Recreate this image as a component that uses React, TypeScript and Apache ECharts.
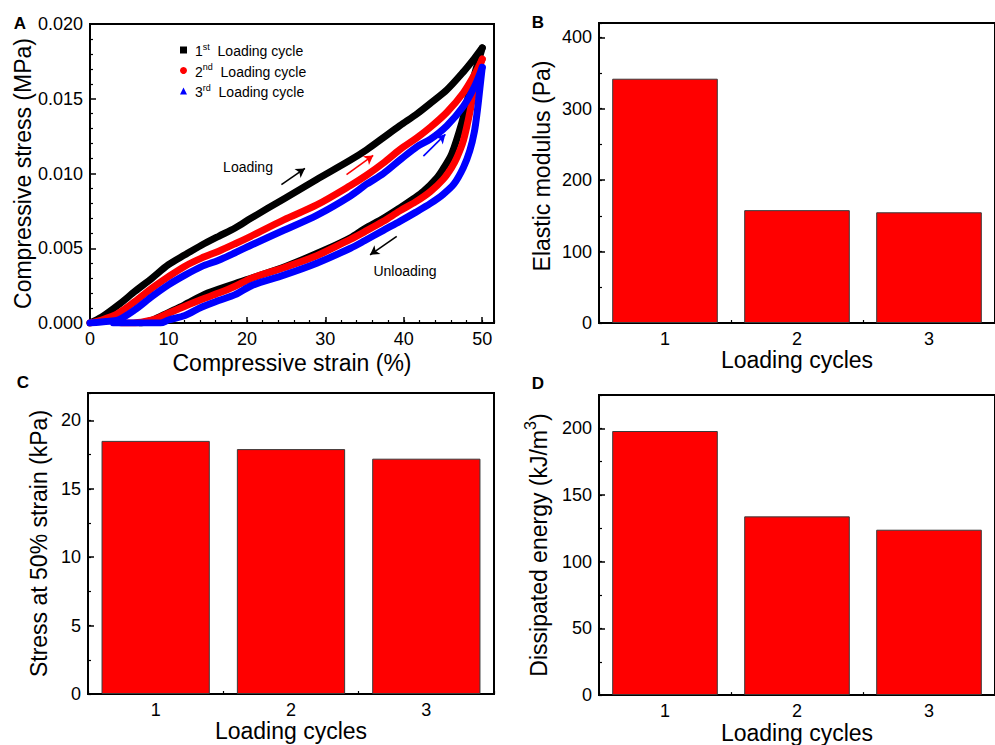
import React, { useEffect, useRef } from 'react';
import * as echarts from 'echarts';

const FONT = 'Arial, "Liberation Sans", sans-serif';

// ---------- Panel A: stress-strain loops ----------
const c1LoadStrain = [0, 1.5, 3.6, 5.7, 7.9, 10, 12.1, 14.2, 16.4, 18.5, 20.5, 24.7, 28.9, 33.2, 35.3, 37.4, 39.5, 41.7, 43.4, 45.5, 47.6, 49, 50];
const c1LoadStress = [0, 0.0004, 0.0012, 0.0021, 0.003, 0.0039, 0.00456, 0.0052, 0.0058, 0.00635, 0.007, 0.0083, 0.0096, 0.0109, 0.0116, 0.0124, 0.0132, 0.014, 0.0147, 0.0156, 0.0168, 0.0177, 0.0184];
const c1UnloadStrain = [50, 49.5, 49, 48.25, 47.4, 46.1, 45, 44.2, 42.5, 41.2, 39.5, 37.4, 35, 33.2, 30, 25, 20, 15, 12, 10, 8, 6.5];
const c1UnloadStress = [0.0184, 0.0175, 0.0166, 0.0152, 0.0134, 0.0113, 0.0103, 0.0097, 0.0088, 0.0083, 0.0077, 0.007, 0.0063, 0.0057, 0.0049, 0.0038, 0.0029, 0.002, 0.0012, 0.0007, 0.0002, 0];

const c2LoadStrain = [0, 1.5, 3.6, 5.7, 7.9, 10, 12.1, 14.2, 16.4, 18.5, 20.5, 24.7, 28.9, 33.2, 35.3, 37.4, 39.5, 41.7, 43.4, 45.5, 47.6, 49, 50];
const c2LoadStress = [0, 0.0002, 0.00065, 0.00143, 0.00233, 0.0031, 0.0038, 0.00434, 0.0048, 0.0053, 0.0058, 0.0069, 0.0079, 0.0092, 0.0099, 0.0107, 0.0116, 0.0124, 0.0131, 0.0141, 0.0154, 0.0166, 0.01765];
const c2UnloadStrain = [50, 49.5, 49.1, 48.5, 47.6, 46.8, 46.1, 45, 43.4, 41.5, 39.5, 37.4, 35, 33.2, 28.9, 24.7, 20.6, 18.5, 16.4, 14.2, 12.1, 10, 8.5, 7, 5.5, 4];
const c2UnloadStress = [0.01765, 0.0169, 0.0161, 0.0143, 0.0122, 0.0111, 0.0104, 0.0096, 0.0088, 0.0081, 0.0075, 0.0068, 0.0061, 0.0056, 0.0045, 0.0037, 0.003, 0.00246, 0.002, 0.00157, 0.00112, 0.00065, 0.0003, 0.0001, 0, 0];

const c3LoadStrain = [0, 2, 3.6, 5.7, 7.9, 10, 12.1, 14.2, 16.4, 18.5, 20.5, 24.7, 28.9, 33.2, 35.3, 37.4, 39.5, 41.7, 43.4, 45.5, 47.6, 49, 50];
const c3LoadStress = [0, 0.0001, 0.0002, 0.00087, 0.00177, 0.00255, 0.0032, 0.00377, 0.0042, 0.0047, 0.0052, 0.0062, 0.0072, 0.0085, 0.0093, 0.01, 0.0109, 0.0118, 0.0123, 0.0132, 0.0145, 0.0158, 0.0171];
const c3UnloadStrain = [50, 49.7, 49.4, 49, 48.4, 47.6, 46.4, 45, 43.4, 41.5, 39.5, 37.4, 35, 33.2, 28.9, 24.7, 20.6, 18.5, 16.4, 14.2, 12.1, 10, 9, 3];
const c3UnloadStress = [0.0171, 0.0157, 0.0143, 0.0128, 0.0115, 0.0104, 0.0093, 0.0086, 0.008, 0.0074, 0.0068, 0.0062, 0.0055, 0.005, 0.004, 0.0032, 0.0025, 0.0019, 0.0015, 0.00105, 0.0005, 0.0002, 0, 0];

const cycleNames = ['1st Loading cycle', '2nd Loading cycle', '3rd Loading cycle'];
const cycleOrdinals = ['1', '2', '3'];
const cycleSuffixes = ['st', 'nd', 'rd'];
const cycleColors = ['#000000', '#ff0000', '#0000ff'];
const cycleIcons = ['rect', 'circle', 'triangle'];

// direction arrows [startStrain, startStress, endStrain, endStress]
const arrowBlack = [24.4, 0.00926, 27.4, 0.01034];
const arrowRed = [32.7, 0.00993, 36.1, 0.01121];
const arrowBlue = [42.5, 0.01116, 45.3, 0.01262];
const arrowUnload = [39.1, 0.00579, 35.7, 0.00456];

// ---------- Panels B, C, D ----------
const cycleCategories = ['1', '2', '3'];
const elasticModulus = [342, 158, 155];
const stressAt50 = [18.5, 17.9, 17.2];
const dissipatedEnergy = [198, 134, 124];

const zip = (xs: number[], ys: number[]) => xs.map((x, i) => [x, ys[i]]);

const BLACK = '#000';

function majorValueAxis(gridIndex: number, min: number, max: number, interval: number, extra: any = {}) {
  return {
    type: 'value', gridIndex, min, max, interval,
    axisLine: { show: true, onZero: false, lineStyle: { color: BLACK, width: 2 } },
    axisTick: { show: true, inside: true, length: 6, lineStyle: { color: BLACK, width: 1.5 } },
    splitLine: { show: false },
    axisLabel: { show: true, color: BLACK, fontSize: 18, fontFamily: FONT, margin: 7, showMaxLabel: false },
    nameLocation: 'middle',
    nameTextStyle: { color: BLACK, fontSize: 23, fontFamily: FONT },
    ...extra,
  };
}

function minorValueAxis(gridIndex: number, min: number, max: number, interval: number, position: string) {
  return {
    type: 'value', gridIndex, min, max, interval, position,
    axisLine: { show: false },
    axisTick: { show: true, inside: true, length: 3, lineStyle: { color: BLACK, width: 1.2 } },
    splitLine: { show: false },
    axisLabel: { show: false },
  };
}

function majorCatAxis(gridIndex: number, name: string, nameGap: number) {
  return {
    type: 'category', gridIndex, data: cycleCategories, boundaryGap: true, position: 'bottom',
    axisLine: { show: true, onZero: false, lineStyle: { color: BLACK, width: 2 } },
    axisTick: { show: true, inside: true, alignWithLabel: true, length: 6, lineStyle: { color: BLACK, width: 1.5 } },
    axisLabel: { color: BLACK, fontSize: 18, fontFamily: FONT, margin: 7 },
    splitLine: { show: false },
    name, nameLocation: 'middle', nameGap,
    nameTextStyle: { color: BLACK, fontSize: 23, fontFamily: FONT },
  };
}

function minorCatAxis(gridIndex: number) {
  return {
    type: 'category', gridIndex, data: cycleCategories, boundaryGap: true, position: 'bottom',
    axisLine: { show: false },
    axisTick: { show: true, inside: true, alignWithLabel: false, length: 3, lineStyle: { color: BLACK, width: 1.2 } },
    axisLabel: { show: false },
    splitLine: { show: false },
  };
}

function barSeries(xAxisIndex: number, yAxisIndex: number, data: number[]) {
  return {
    type: 'bar', xAxisIndex, yAxisIndex, data, barWidth: '80%',
    itemStyle: { color: '#ff0000', borderColor: '#3a3a3a', borderWidth: 1 },
    silent: true,
  };
}

const gridBase = { show: true, borderColor: BLACK, borderWidth: 2, backgroundColor: 'transparent', containLabel: false };

function buildOption() {
  const curves = [
    [zip(c1LoadStrain, c1LoadStress), zip(c1UnloadStrain, c1UnloadStress)],
    [zip(c2LoadStrain, c2LoadStress), zip(c2UnloadStrain, c2UnloadStress)],
    [zip(c3LoadStrain, c3LoadStress), zip(c3UnloadStrain, c3UnloadStress)],
  ];
  const arrowLine = (a: number[], color: string) => [
    { coord: [a[0], a[1]], lineStyle: { color, width: 1.6, type: 'solid' } },
    { coord: [a[2], a[3]] },
  ];
  const lineSeries: any[] = [];
  curves.forEach((pair, i) => {
    pair.forEach((pts, j) => {
      lineSeries.push({
        type: 'line', name: cycleNames[i], xAxisIndex: 0, yAxisIndex: 0,
        data: pts, showSymbol: false, symbol: 'none', smooth: 0.3,
        lineStyle: { color: cycleColors[i], width: 7, cap: 'round', join: 'round' },
        itemStyle: { color: cycleColors[i] },
        emphasis: { disabled: true },
        silent: true,
        z: 2 + i,
        ...(i === 0 && j === 0 ? {
          markLine: {
            silent: true, symbol: ['none', 'arrow'], symbolSize: [8, 9],
            label: { show: false },
            data: [
              arrowLine(arrowBlack, '#000'),
              arrowLine(arrowRed, '#ff0000'),
              arrowLine(arrowBlue, '#0000ff'),
              arrowLine(arrowUnload, '#000'),
            ],
          },
        } : {}),
      });
    });
  });

  return {
    animation: false,
    backgroundColor: '#fff',
    textStyle: { fontFamily: FONT },
    grid: [
      { ...gridBase, left: 90, top: 24, width: 404, height: 299 },
      { ...gridBase, left: 599, top: 23, width: 405, height: 300 },
      { ...gridBase, left: 88, top: 393, width: 406, height: 301 },
      { ...gridBase, left: 599, top: 395, width: 405, height: 301 },
    ],
    legend: {
      left: 175, top: 37, orient: 'vertical', itemWidth: 7, itemHeight: 7, itemGap: 4.5,
      selectedMode: false,
      data: cycleNames.map((n, i) => ({ name: n, icon: cycleIcons[i] })),
      formatter: (name: string) => {
        const i = cycleNames.indexOf(name);
        return `{b|${cycleOrdinals[i]}}{s|${cycleSuffixes[i]}}{b|  Loading cycle}`;
      },
      textStyle: {
        padding: [0, 0, 0, 3],
        rich: {
          b: { fontSize: 14, lineHeight: 16, fontFamily: FONT, color: BLACK, verticalAlign: 'bottom' },
          s: { fontSize: 9, lineHeight: 10, fontFamily: FONT, color: BLACK, verticalAlign: 'top' },
        },
      },
    },
    xAxis: [
      majorValueAxis(0, 0, 51.5, 10, { position: 'bottom', name: 'Compressive strain (%)', nameGap: 28 }),
      minorValueAxis(0, 0, 51.5, 2, 'bottom'),
      majorCatAxis(1, 'Loading cycles', 25),
      minorCatAxis(1),
      majorCatAxis(2, 'Loading cycles', 22),
      minorCatAxis(2),
      majorCatAxis(3, 'Loading cycles', 25),
      minorCatAxis(3),
    ],
    yAxis: [
      majorValueAxis(0, 0, 0.02, 0.005, {
        position: 'left', name: 'Compressive stress (MPa)', nameGap: 56,
        minorTick: { show: true, splitNumber: 5, length: 3, lineStyle: { color: BLACK, width: 1.2 } },
        axisLabel: { show: true, color: BLACK, fontSize: 18, fontFamily: FONT, margin: 7, formatter: (v: number) => v.toFixed(3) },
      }),
      majorValueAxis(1, 0, 420, 100, {
        position: 'left', name: 'Elastic modulus (Pa)', nameGap: 46,
        nameTextStyle: { color: BLACK, fontSize: 23, fontFamily: FONT, padding: [0, 0, 0, 14] },
      }),
      minorValueAxis(1, 0, 420, 50, 'left'),
      majorValueAxis(2, 0, 22, 5, { position: 'left', name: 'Stress at 50% strain (kPa)', nameGap: 38 }),
      minorValueAxis(2, 0, 22, 2.5, 'left'),
      majorValueAxis(3, 0, 225, 50, {
        position: 'left', name: '{a|Dissipated energy (kJ/m}{s|3}{a|)}', nameGap: 49,
        nameTextStyle: {
          color: BLACK, fontFamily: FONT,
          rich: {
            a: { fontSize: 23, lineHeight: 28, fontFamily: FONT, color: BLACK, verticalAlign: 'bottom' },
            s: { fontSize: 16, lineHeight: 16, fontFamily: FONT, color: BLACK, verticalAlign: 'top' },
          },
        },
      }),
      minorValueAxis(3, 0, 225, 25, 'left'),
    ],
    series: [
      ...lineSeries,
      barSeries(2, 1, elasticModulus),
      barSeries(4, 3, stressAt50),
      barSeries(6, 5, dissipatedEnergy),
    ],
    graphic: [
      { type: 'text', x: 20, y: 23, style: { text: 'A', font: `bold 17px ${FONT}`, fill: BLACK, align: 'center', verticalAlign: 'middle' } },
      { type: 'text', x: 538, y: 22, style: { text: 'B', font: `bold 17px ${FONT}`, fill: BLACK, align: 'center', verticalAlign: 'middle' } },
      { type: 'text', x: 23, y: 382, style: { text: 'C', font: `bold 17px ${FONT}`, fill: BLACK, align: 'center', verticalAlign: 'middle' } },
      { type: 'text', x: 538, y: 383, style: { text: 'D', font: `bold 17px ${FONT}`, fill: BLACK, align: 'center', verticalAlign: 'middle' } },
      { type: 'text', x: 248, y: 167, style: { text: 'Loading', font: `14px ${FONT}`, fill: BLACK, align: 'center', verticalAlign: 'middle' } },
      { type: 'text', x: 405, y: 271, style: { text: 'Unloading', font: `14px ${FONT}`, fill: BLACK, align: 'center', verticalAlign: 'middle' } },
    ],
  };
}

export default function App() {
  const ref = useRef<HTMLDivElement>(null);
  useEffect(() => {
    if (!ref.current) return;
    const chart = echarts.init(ref.current, undefined, { renderer: 'svg' });
    chart.setOption(buildOption() as any);
    return () => chart.dispose();
  }, []);
  return (
    <div
      ref={ref}
      style={{ position: 'fixed', left: 0, top: 0, width: 995, height: 745, background: '#fff' }}
    />
  );
}
